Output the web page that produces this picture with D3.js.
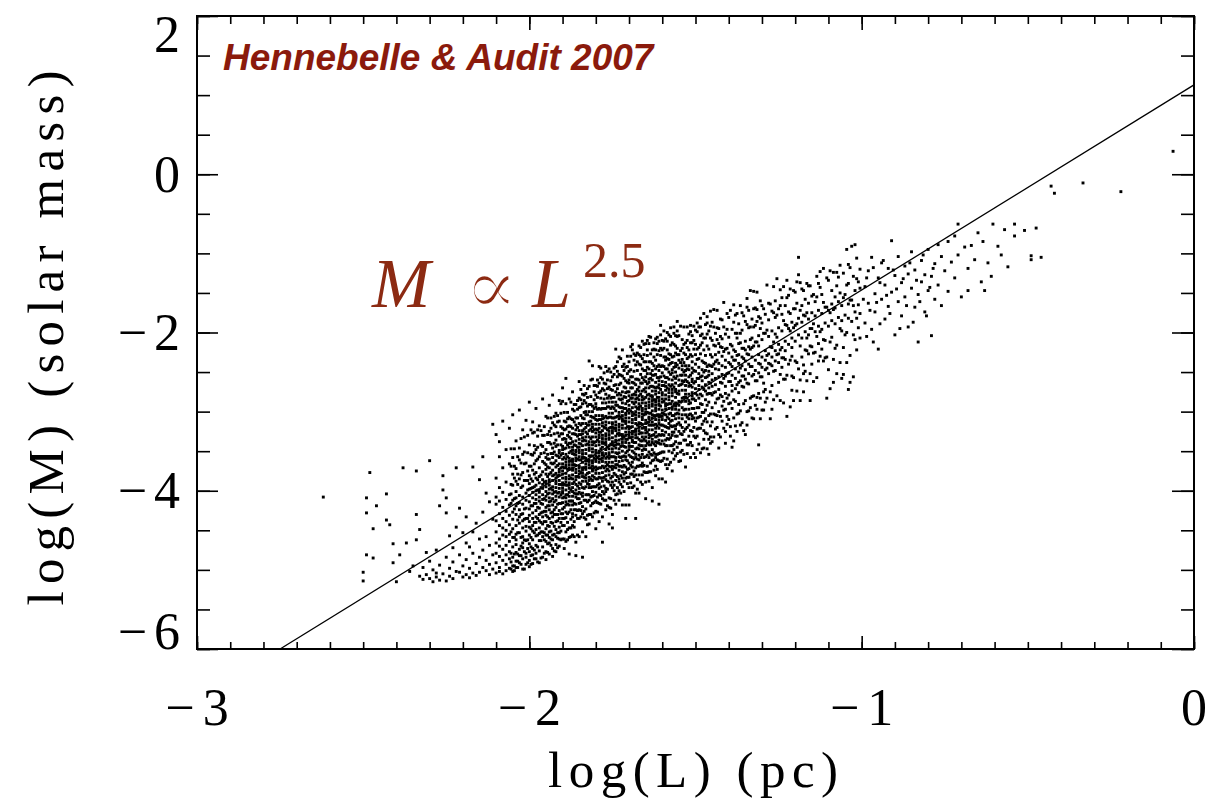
<!DOCTYPE html>
<html>
<head>
<meta charset="utf-8">
<script src="https://cdn.jsdelivr.net/npm/d3@7"></script>
<style>
  body { margin: 0; background: #fff; }
  svg { display: block; }
</style>
</head>
<body>
<div id="chart"></div>
<script>
// axis labels
const xMajor = [-3, -2, -1, 0];
const yMajor = [2, 0, -2, -4, -6];
const xTitle = 'log(L)  (pc)';
const yTitle = 'log(M)  (solar mass)';
const credit = 'Hennebelle & Audit 2007';

// power law fit, a straight line in log-log
const fitL = [-2.75, 0];
const fitM = [-6, 1.13];

// clumps: [logL, logM]
const tailPts = [
  [-2.62,-4.08],[-2.50,-5.03],[-2.50,-5.14],[-2.49,-4.81],[-2.49,-4.28],[-2.49,-4.09],[-2.48,-3.77],[-2.47,-4.48],
  [-2.47,-4.85],[-2.46,-4.19],[-2.43,-4.04],[-2.43,-4.37],[-2.42,-4.43],[-2.41,-4.67],[-2.41,-4.91],[-2.40,-5.15],
  [-2.39,-4.81],[-2.38,-3.71],[-2.37,-4.66],[-2.36,-5.02],[-2.35,-4.95],[-2.34,-3.75],[-2.34,-4.30],[-2.34,-4.62],
  [-2.33,-4.49],[-2.33,-5.08],[-2.32,-4.97],[-2.32,-5.12],[-2.31,-4.78],[-2.31,-5.06],[-2.30,-3.62],[-2.30,-5.11],
  [-2.30,-4.89],[-2.29,-5.00],[-2.29,-5.15],[-2.28,-5.04],[-2.28,-4.75],[-2.28,-5.09],[-2.27,-4.19],[-2.27,-4.94],
  [-2.27,-5.13],[-2.26,-3.81],[-2.26,-3.99],[-2.26,-5.05],[-2.25,-4.09],[-2.25,-4.28],[-2.25,-5.14],[-2.25,-4.84],
  [-2.24,-4.98],[-2.24,-5.08],[-2.24,-4.57],[-2.23,-4.72],[-2.23,-4.90],[-2.23,-5.11],[-2.22,-3.71],[-2.22,-4.46],
  [-2.22,-5.02],[-2.21,-4.22],[-2.21,-5.03],[-2.21,-4.81],[-2.20,-4.53],[-2.20,-4.95],[-2.20,-5.09],[-2.19,-4.33],
  [-2.19,-4.66],[-2.19,-5.06],[-2.19,-4.87],[-2.18,-4.71],[-2.18,-4.98],[-2.18,-5.10],[-2.17,-3.70],[-2.17,-4.79],
  [-2.17,-4.52],[-2.17,-5.04],[-2.16,-4.41],[-2.16,-4.92],[-2.16,-5.07],[-2.15,-3.86],[-2.15,-5.03],[-2.15,-4.61],
  [-2.15,-4.84],[-2.14,-3.57],[-2.14,-4.27],[-2.14,-4.75],[-2.14,-4.97],[-2.13,-4.03],[-2.13,-4.58],[-2.13,-5.01],
  [-2.13,-4.88],[-2.12,-4.14],[-2.12,-4.69],[-2.12,-4.93],[-2.12,-5.06],[-2.11,-3.16],[-2.11,-4.36],[-2.11,-4.81],
  [-2.11,-4.99]
];

// dense band, one column per 0.01 in logL: [logL, [logM...]]
const coreCols = [
  [-2.10, [-4.52,-3.29,-4.91,-4.17,-4.66,-3.84,-5.04,-4.38,-4.79,-4.08]],
  [-2.09, [-4.61,-3.57,-4.29,-4.97,-4.44,-3.96,-4.83,-4.13,-4.70,-5.02,-3.38]],
  [-2.08, [-4.35,-4.88,-3.12,-4.56,-4.02,-4.74,-3.71,-4.47,-5.05,-4.21]],
  [-2.07, [-4.69,-4.11,-3.48,-4.93,-4.39,-4.58,-3.89,-4.81,-4.26,-5.01,-4.50]],
  [-2.06, [-4.43,-3.21,-4.77,-4.05,-4.64,-4.98,-3.66,-4.31,-4.55,-4.86,-4.18]],
  [-2.05, [-4.27,-3.04,-4.59,-3.93,-4.71,-4.12,-4.95,-3.58,-4.36,-4.84,-4.48,-3.79,-5.02]],
  [-2.04, [-4.19,-4.62,-3.37,-4.89,-4.01,-4.44,-3.72,-4.78,-4.30,-4.97,-4.55,-3.88,-4.09,-4.68]],
  [-2.03, [-4.33,-2.98,-4.53,-3.85,-4.74,-4.15,-4.91,-3.61,-4.41,-4.06,-4.82,-4.24,-3.46]],
  [-2.02, [-4.08,-4.66,-3.23,-4.47,-3.94,-4.86,-4.29,-3.77,-4.58,-4.17,-4.99,-4.38,-3.54,-4.72]],
  [-2.01, [-4.22,-3.65,-4.79,-4.03,-4.51,-3.11,-4.93,-4.35,-3.87,-4.63,-4.12,-4.45,-4.84]],
  [-2.00, [-4.14,-2.88,-4.46,-3.81,-4.67,-3.98,-4.31,-3.42,-4.88,-4.06,-4.56,-3.69,-4.23,-4.77,-3.91,-4.39,-4.96]],
  [-1.99, [-3.96,-4.35,-3.27,-4.62,-4.09,-3.74,-4.81,-4.19,-4.51,-3.55,-4.28,-3.88,-4.73,-4.02,-4.44,-4.92,-3.13]],
  [-1.98, [-4.11,-3.84,-4.57,-2.96,-4.25,-3.62,-4.69,-4.00,-4.40,-3.77,-4.86,-4.16,-3.93,-4.49,-3.48,-4.33,-4.79,-4.05]],
  [-1.97, [-4.02,-4.38,-3.71,-4.63,-3.18,-4.22,-3.90,-4.54,-4.13,-3.57,-4.76,-4.30,-3.82,-4.47,-4.08,-4.91,-3.99]],
  [-1.96, [-3.92,-4.27,-3.44,-4.58,-4.05,-3.76,-4.71,-2.84,-4.17,-3.63,-4.42,-3.97,-4.84,-4.33,-3.86,-4.11,-4.52,-3.30]],
  [-1.95, [-3.95,-4.31,-3.58,-4.64,-3.06,-4.12,-3.79,-4.48,-4.01,-3.67,-4.77,-4.21,-3.88,-4.39,-3.48,-4.07,-4.56,-3.91,-4.87,-4.26,-3.73]],
  [-1.94, [-3.86,-4.19,-3.39,-4.52,-3.98,-3.71,-4.66,-2.92,-4.09,-3.60,-4.35,-3.93,-4.80,-4.24,-3.79,-4.03,-4.45,-3.25,-3.89,-4.14,-4.59]],
  [-1.93, [-3.81,-4.27,-3.53,-4.41,-3.95,-3.66,-4.73,-3.14,-4.04,-3.74,-4.56,-3.87,-4.18,-3.46,-4.33,-3.99,-4.62,-3.58,-4.10,-4.83,-2.79]],
  [-1.92, [-3.78,-4.12,-3.44,-4.49,-3.91,-3.62,-4.68,-3.02,-4.01,-3.70,-4.30,-3.84,-4.21,-3.36,-4.58,-3.96,-4.39,-3.55,-4.07,-4.77,-3.88,-3.19]],
  [-1.91, [-3.73,-4.16,-3.49,-4.35,-3.87,-3.58,-4.61,-2.86,-3.97,-3.66,-4.46,-3.80,-4.08,-3.31,-4.25,-3.92,-4.70,-3.52,-4.02,-3.76,-4.53,-3.12]],
  [-1.90, [-3.79,-4.03,-3.44,-4.29,-3.70,-3.90,-3.21,-4.15,-3.60,-3.97,-3.35,-4.44,-3.75,-4.09,-2.87,-3.84,-3.53,-4.23,-3.66,-4.61,-3.28,-3.93,-3.48,-4.35,-2.70,-4.01]],
  [-1.89, [-3.68,-3.93,-3.54,-4.18,-3.22,-3.85,-3.60,-4.34,-3.39,-4.05,-3.78,-4.52,-3.46,-3.89,-3.13,-4.14,-3.71,-4.27,-2.90,-3.99,-3.35,-4.64,-3.64,-4.09,-2.58,-3.83]],
  [-1.88, [-3.71,-3.93,-3.40,-4.18,-3.63,-4.02,-3.18,-3.85,-3.52,-4.47,-3.32,-3.81,-3.07,-4.07,-3.59,-4.27,-3.45,-3.90,-2.84,-4.59,-3.67,-4.13,-3.26,-3.97,-3.73,-4.80]],
  [-1.87, [-3.85,-3.67,-4.01,-3.38,-4.18,-3.53,-3.80,-3.21,-4.33,-3.60,-4.07,-2.97,-3.91,-3.71,-4.56,-3.28,-3.96,-3.45,-4.29,-2.75,-3.74,-3.10,-4.13,-3.63,-4.44,-3.49]],
  [-1.86, [-3.73,-3.49,-4.08,-3.23,-3.82,-3.62,-4.31,-3.37,-3.92,-3.55,-4.17,-3.08,-3.77,-3.43,-4.65,-3.68,-3.99,-3.29,-3.86,-2.91,-4.24,-3.59,-4.04,-3.17,-4.82,-3.51]],
  [-1.85, [-3.71,-3.49,-4.02,-3.24,-3.79,-3.40,-4.24,-3.57,-3.90,-2.95,-4.10,-3.61,-4.35,-3.35,-3.83,-3.15,-3.97,-3.52,-4.58,-2.83,-3.75,-3.29,-4.16,-3.45,-3.69,-2.62]],
  [-1.84, [-3.74,-3.49,-3.88,-3.24,-4.20,-3.57,-3.82,-3.08,-4.03,-3.37,-3.64,-2.90,-3.96,-3.53,-4.29,-3.28,-3.71,-3.15,-4.52,-3.43,-4.07,-2.78,-3.78,-3.33,-4.84,-3.59]],
  [-1.83, [-3.48,-3.66,-3.32,-3.95,-3.15,-3.80,-3.53,-4.12,-3.00,-3.73,-3.26,-4.36,-3.42,-3.62,-2.77,-4.05,-3.37,-3.88,-3.04,-4.58,-3.59,-4.23,-3.20,-3.70,-2.89,-3.84]],
  [-1.82, [-3.46,-3.71,-3.32,-3.96,-3.00,-3.63,-3.38,-4.12,-3.17,-3.83,-3.56,-4.30,-3.24,-3.67,-2.91,-3.92,-3.49,-4.05,-2.68,-3.77,-3.13,-4.42,-3.42,-3.87,-2.36,-3.61]],
  [-1.81, [-3.51,-3.75,-3.16,-4.01,-3.42,-3.62,-2.93,-3.87,-3.32,-3.69,-3.07,-4.16,-3.47,-3.81,-2.59,-3.56,-3.25,-3.95,-3.38,-4.33,-3.00,-3.65,-3.20,-4.07,-2.42,-3.73]],
  [-1.80, [-3.38,-3.56,-3.22,-3.85,-3.05,-3.70,-3.43,-4.02,-2.90,-3.63,-3.16,-4.26,-3.32,-3.52,-2.67,-3.95,-3.27,-3.78,-2.94,-4.48,-3.49,-4.13,-3.10,-3.60,-2.79,-3.74]],
  [-1.79, [-3.52,-3.30,-3.83,-3.05,-3.60,-3.21,-4.05,-3.38,-3.71,-2.76,-3.91,-3.42,-4.16,-3.16,-3.64,-2.96,-3.78,-3.33,-4.39,-2.64,-3.56,-3.10,-3.97,-3.26,-3.50,-2.43]],
  [-1.78, [-3.55,-3.30,-3.69,-3.05,-4.01,-3.38,-3.63,-2.89,-3.84,-3.18,-3.45,-2.71,-3.77,-3.34,-4.10,-3.09,-3.52,-2.96,-4.33,-3.24,-3.88,-2.59,-3.59,-3.14,-4.65,-3.40]],
  [-1.77, [-3.53,-3.35,-3.69,-3.06,-3.86,-3.21,-3.48,-2.89,-4.01,-3.28,-3.75,-2.65,-3.59,-3.39,-4.24,-2.96,-3.64,-3.13,-3.97,-2.43,-3.42,-2.78,-3.81,-3.31,-4.12,-3.17]],
  [-1.76, [-3.33,-3.55,-3.02,-3.80,-3.25,-3.64,-2.80,-3.47,-3.14,-4.09,-2.94,-3.43,-2.69,-3.69,-3.21,-3.89,-3.07,-3.52,-2.46,-4.21,-3.29,-3.75,-2.88,-3.59,-3.35,-4.42]],
  [-1.75, [-3.38,-3.14,-3.73,-2.88,-3.47,-3.27,-3.96,-3.02,-3.57,-3.20,-3.82,-2.73,-3.42,-3.08,-4.30,-3.33,-3.64,-2.94,-3.51,-2.56,-3.89,-3.24,-3.69,-2.82,-4.47,-3.16]],
  [-1.74, [-3.21,-3.46,-3.07,-3.71,-2.75,-3.38,-3.13,-3.87,-2.92,-3.58,-3.31,-4.05,-2.99,-3.42,-2.66,-3.67,-3.24,-3.80,-2.43,-3.52,-2.88,-4.17,-3.17,-3.62,-2.21,-3.36]],
  [-1.73, [-3.41,-3.23,-3.57,-2.94,-3.74,-3.09,-3.36,-2.77,-3.89,-3.16,-3.63,-2.53,-3.47,-3.27,-4.12,-2.84,-3.52,-3.01,-3.85,-2.31,-3.30,-2.66,-3.69,-3.19,-4.00,-3.05]],
  [-1.72, [-3.31,-3.09,-3.62,-2.84,-3.39,-3.00,-3.84,-3.17,-3.50,-2.55,-3.70,-3.21,-3.95,-2.95,-3.43,-2.75,-3.57,-3.12,-4.18,-2.43,-3.35,-2.89,-3.76,-3.05,-3.29,-2.22]],
  [-1.71, [-3.26,-3.02,-3.61,-2.76,-3.35,-3.15,-3.84,-2.90,-3.45,-3.08,-3.70,-2.61,-3.30,-2.96,-4.18,-3.21,-3.52,-2.82,-3.39,-2.44,-3.77,-3.12,-3.57,-2.70,-4.35,-3.04]],
  [-1.70, [-3.08,-3.26,-2.92,-3.55,-2.75,-3.40,-3.13,-3.72,-2.60,-3.33,-2.86,-3.96,-3.02,-3.22,-2.37,-3.65,-2.97,-3.48,-2.64,-4.18,-3.19,-3.83,-2.80,-3.30,-2.49,-3.44]],
  [-1.69, [-3.14,-3.38,-2.79,-3.64,-3.05,-3.25,-2.56,-3.50,-2.95,-3.32,-2.70,-3.79,-3.10,-3.44,-2.22,-3.19,-2.88,-3.58,-3.01,-3.96,-2.63,-3.28,-2.83,-3.70,-2.15,-3.36]],
  [-1.68, [-3.25,-3.00,-3.39,-2.75,-3.71,-3.08,-3.33,-2.59,-3.54,-2.88,-3.15,-2.41,-3.47,-3.04,-3.80,-2.79,-3.22,-2.66,-4.03,-2.94,-3.58,-2.29,-3.29,-2.84,-4.35,-3.10]],
  [-1.67, [-3.16,-2.94,-3.47,-2.69,-3.24,-2.85,-3.69,-3.02,-3.35,-2.40,-3.55,-3.06,-3.80,-2.80,-3.28,-2.60,-3.42,-2.97,-4.03,-2.28,-3.20,-2.74,-3.61,-2.90,-3.14,-2.17]],
  [-1.66, [-3.21,-3.03,-3.37,-2.74,-3.54,-2.89,-3.16,-2.57,-3.69,-2.96,-3.43,-2.33,-3.27,-3.07,-3.92,-2.64,-3.32,-2.81,-3.65,-2.11,-3.10,-2.46,-3.49,-2.99,-3.80,-2.85]],
  [-1.65, [-3.01,-3.23,-2.70,-3.48,-2.93,-3.32,-2.48,-3.15,-2.82,-3.77,-2.62,-3.11,-2.37,-3.37,-2.89,-3.57,-2.75,-3.20,-2.14,-3.89,-2.97,-3.43,-2.56,-3.27,-3.03,-4.10]],
  [-1.64, [-2.92,-3.17,-2.78,-3.42,-2.46,-3.09,-2.84,-3.58,-2.63,-3.29,-3.02,-3.76,-2.70,-3.13,-2.37,-3.38,-2.95,-3.51,-2.14,-3.23,-2.59,-3.88,-2.88,-3.33,-2.05,-3.07]],
  [-1.63, [-3.04,-2.80,-3.39,-2.54,-3.13,-2.93,-3.62,-2.68,-3.23,-2.86,-3.48,-2.39,-3.08,-2.74,-3.96,-2.99,-3.30,-2.60,-3.17,-2.22,-3.55,-2.90,-3.35,-2.48,-4.13,-2.82]],
  [-1.62, [-3.10,-2.92,-3.26,-2.63,-3.43,-2.78,-3.05,-2.46,-3.58,-2.85,-3.32,-2.22,-3.16,-2.96,-3.81,-2.53,-3.21,-2.70,-3.54,-2.08,-2.99,-2.35,-3.38,-2.88,-3.69,-2.74]],
  [-1.61, [-3.07,-2.82,-3.21,-2.57,-3.53,-2.90,-3.15,-2.41,-3.36,-2.70,-2.97,-2.23,-3.29,-2.86,-3.62,-2.61,-3.04,-2.48,-3.85,-2.76,-3.40,-2.11,-3.11,-2.66,-4.17,-2.92]],
  [-1.60, [-2.98,-2.76,-3.29,-2.51,-3.06,-2.67,-3.51,-2.84,-3.17,-2.22,-3.37,-2.88,-3.62,-2.62,-3.10,-2.42,-3.24,-2.79,-3.85,-2.10,-3.02]],
  [-1.59, [-2.79,-2.97,-2.63,-3.26,-2.46,-3.11,-2.84,-3.43,-2.31,-3.04,-2.57,-3.67,-2.73,-2.93,-2.08,-3.36,-2.68,-3.19,-2.35,-3.89,-2.90]],
  [-1.58, [-2.85,-3.09,-2.50,-3.35,-2.76,-2.96,-2.27,-3.21,-2.66,-3.03,-2.41,-3.50,-2.81,-3.15,-2.03,-2.90,-2.59,-3.29,-2.72,-3.67,-2.34]],
  [-1.57, [-2.97,-2.72,-3.11,-2.47,-3.43,-2.80,-3.05,-2.31,-3.26,-2.60,-2.87,-2.13,-3.19,-2.76,-3.52,-2.51,-2.94,-2.38,-3.75,-2.66,-3.30]],
  [-1.56, [-2.72,-2.97,-2.58,-3.22,-2.26,-2.89,-2.64,-3.38,-2.43,-3.09,-2.82,-3.56,-2.50,-2.93,-2.17,-3.18,-2.75,-3.31,-2.04,-3.03,-2.39]],
  [-1.55, [-2.92,-2.74,-3.08,-2.45,-3.25,-2.60,-2.87,-2.28,-3.40,-2.67,-3.14,-2.04,-2.98,-2.78,-3.63,-2.35,-3.03]],
  [-1.54, [-2.73,-2.95,-2.42,-3.20,-2.65,-3.04,-2.20,-2.87,-2.54,-3.49,-2.34,-2.83,-2.09,-3.09,-2.61,-3.29,-2.47]],
  [-1.53, [-2.78,-2.54,-3.13,-2.28,-2.87,-2.67,-3.36,-2.42,-2.97,-2.60,-3.22,-2.13,-2.82,-2.48,-3.70,-2.73,-3.04]],
  [-1.52, [-2.78,-2.56,-3.09,-2.31,-2.86,-2.47,-3.31,-2.64,-2.97,-2.02,-3.17,-2.68,-3.42,-2.42,-2.90,-2.22,-3.04]],
  [-1.51, [-2.59,-2.84,-2.45,-3.09,-2.13,-2.76,-2.51,-3.25,-2.30,-2.96,-2.69,-3.43,-2.37,-2.80,-2.04,-3.05,-2.62]]
];

// wider spread of the band, read between the columns above
const flankCols = [
  [-2.055, [-3.69,-4.79,-4.16,-4.99,-3.92,-4.52,-3.47,-4.90,-4.04]],
  [-2.045, [-3.84,-4.95,-3.47,-4.59,-4.10,-4.80,-3.69,-5.01,-4.23]],
  [-2.035, [-4.80,-3.92,-4.37,-3.57,-4.97,-3.79,-4.53,-4.16,-4.89]],
  [-2.025, [-4.59,-3.65,-4.93,-3.96,-4.70,-3.34,-4.30,-3.80,-4.82]],
  [-2.015, [-4.62,-3.51,-4.99,-3.87,-4.36,-3.66,-4.77,-3.32,-4.23]],
  [-2.005, [-3.52,-4.62,-3.99,-4.91,-3.75,-4.35,-3.30,-4.73,-3.87]],
  [-1.995, [-4.48,-3.54,-4.82,-3.85,-4.59,-3.23,-4.19,-3.69,-4.71,-3.97,-4.93]],
  [-1.985, [-3.52,-4.40,-3.95,-4.75,-3.26,-4.53,-3.79,-4.16,-3.43,-4.86,-3.66]],
  [-1.975, [-3.60,-4.71,-3.23,-4.35,-3.86,-4.56,-3.45,-4.90,-3.99,-4.21,-3.31]],
  [-1.965, [-4.63,-3.53,-4.16,-3.24,-4.40,-3.80,-4.85,-3.42,-4.28,-3.96,-4.52]],
  [-1.955, [-4.53,-3.65,-4.10,-3.30,-4.79,-3.52,-4.26,-3.89,-4.62,-3.19,-4.39]],
  [-1.945, [-4.33,-3.39,-4.67,-3.70,-4.44,-3.08,-4.04,-3.54,-4.56,-3.82,-4.78,-3.29,-4.19,-3.60]],
  [-1.935, [-3.30,-4.40,-3.77,-4.69,-3.53,-4.13,-3.08,-4.51,-3.65,-3.97,-3.41,-4.28,-3.21,-4.61]],
  [-1.925, [-3.51,-4.45,-3.17,-4.14,-3.40,-4.76,-3.80,-4.30,-3.28,-4.02,-3.06,-4.55,-3.65,-4.24]],
  [-1.915, [-3.42,-4.53,-3.05,-4.17,-3.68,-4.38,-3.27,-4.72,-3.81,-4.03,-3.13,-4.30,-3.56,-4.60]],
  [-1.905, [-3.28,-4.16,-3.71,-4.51,-3.02,-4.29,-3.55,-3.92,-3.19,-4.62,-3.42,-4.05,-2.90,-4.40]],
  [-1.895, [-4.35,-3.47,-3.92,-3.12,-4.61,-3.34,-4.08,-3.71,-4.44,-3.01,-4.21,-3.58,-4.73,-3.23]],
  [-1.885, [-4.40,-3.30,-3.93,-3.01,-4.17,-3.57,-4.62,-3.19,-4.05,-3.73,-4.29,-3.42,-4.49,-3.09]],
  [-1.875, [-4.13,-3.19,-4.47,-3.50,-4.24,-2.88,-3.84,-3.34,-4.36,-3.62,-4.58,-3.09,-3.99,-3.40]],
  [-1.865, [-3.28,-4.39,-2.91,-4.03,-3.54,-4.24,-3.13,-4.58,-3.67,-3.89,-2.99,-4.16,-3.42,-4.46]],
  [-1.855, [-3.31,-4.25,-2.97,-3.94,-3.20,-4.56,-3.60,-4.10,-3.08,-3.82,-2.86,-4.35,-3.45,-4.04]],
  [-1.845, [-2.94,-4.04,-3.41,-4.33,-3.17,-3.77,-2.72,-4.15,-3.29,-3.61,-3.05,-3.92,-2.85,-4.25]],
  [-1.835, [-3.97,-2.86,-4.34,-3.22,-3.71,-3.01,-4.12,-2.67,-3.58,-3.36,-4.26,-3.09,-3.83,-2.79]],
  [-1.825, [-4.05,-3.17,-3.62,-2.82,-4.31,-3.04,-3.78,-3.41,-4.14,-2.71,-3.91,-3.28,-4.43,-2.93]],
  [-1.815, [-3.85,-2.91,-4.19,-3.22,-3.96,-2.60,-3.56,-3.06,-4.08,-3.34,-4.30,-2.81,-3.71,-3.12]],
  [-1.805, [-4.06,-2.96,-3.59,-2.67,-3.83,-3.23,-4.28,-2.85,-3.71,-3.39,-3.95,-3.08,-4.15,-2.75]],
  [-1.795, [-2.97,-4.08,-2.60,-3.72,-3.23,-3.93,-2.82,-4.27,-3.36,-3.58,-2.68,-3.85,-3.11,-4.15]],
  [-1.785, [-2.83,-3.71,-3.26,-4.06,-2.57,-3.84,-3.10,-3.47,-2.74,-4.17,-2.97,-3.60,-2.45,-3.95]],
  [-1.775, [-2.73,-3.83,-3.20,-4.12,-2.96,-3.56,-2.51,-3.94,-3.08,-3.40,-2.84,-3.71,-2.64,-4.04]],
  [-1.765, [-2.94,-3.88,-2.60,-3.57,-2.83,-4.19,-3.23,-3.73,-2.71,-3.45,-2.49,-3.98,-3.08,-3.67]],
  [-1.755, [-3.84,-2.96,-3.41,-2.61,-4.10,-2.83,-3.57,-3.20,-3.93,-2.50,-3.70,-3.07,-4.22,-2.72]],
  [-1.745, [-2.82,-3.93,-2.45,-3.57,-3.08,-3.78,-2.67,-4.12,-3.21,-3.43,-2.53,-3.70,-2.96,-4.00]],
  [-1.735, [-3.67,-2.56,-4.04,-2.92,-3.41,-2.71,-3.82,-2.37,-3.28,-3.06,-3.96,-2.79,-3.53,-2.49]],
  [-1.725, [-3.58,-2.64,-3.92,-2.95,-3.69,-2.33,-3.29,-2.79,-3.81,-3.07,-4.03,-2.54,-3.44,-2.85]],
  [-1.715, [-3.79,-2.69,-3.32,-2.40,-3.56,-2.96,-4.01,-2.58,-3.44,-3.12,-3.68,-2.81,-3.88,-2.48]],
  [-1.705, [-2.52,-3.62,-2.99,-3.91,-2.75,-3.35,-2.30,-3.73,-2.87,-3.19,-2.63,-3.50,-2.43,-3.83]],
  [-1.695, [-2.56,-3.44,-2.99,-3.79,-2.30,-3.57,-2.83,-3.20,-2.47,-3.90,-2.70,-3.33,-2.18,-3.68]],
  [-1.685, [-2.64,-3.75,-2.27,-3.39,-2.90,-3.60,-2.49,-3.94,-3.03,-3.25,-2.35,-3.52,-2.78,-3.82]],
  [-1.675, [-3.60,-2.72,-3.17,-2.37,-3.86,-2.59,-3.33,-2.96,-3.69,-2.26,-3.46,-2.83,-3.98,-2.48]],
  [-1.665, [-2.64,-3.58,-2.30,-3.27,-2.53,-3.89,-2.93,-3.43,-2.41,-3.15,-2.19,-3.68,-2.78,-3.37]],
  [-1.655, [-2.37,-3.47,-2.84,-3.76,-2.60,-3.20,-2.15,-3.58,-2.72,-3.04,-2.48,-3.35,-2.28,-3.68]],
  [-1.645, [-3.40,-2.29,-3.77,-2.65,-3.14,-2.44,-3.55,-2.10,-3.01,-2.79,-3.69,-2.52,-3.26,-2.22]],
  [-1.635, [-3.31,-2.37,-3.65,-2.68,-3.42,-2.06,-3.02,-2.52,-3.54,-2.80,-3.76,-2.27,-3.17,-2.58]],
  [-1.625, [-3.52,-2.42,-3.05,-2.13,-3.29,-2.69,-3.74,-2.31,-3.17,-2.85,-3.41,-2.54,-3.61,-2.21]],
  [-1.615, [-2.43,-3.54,-2.06,-3.18,-2.69,-3.39,-2.28,-3.73,-2.82,-3.04,-2.14,-3.31,-2.57,-3.61]],
  [-1.605, [-2.29,-3.17,-2.72,-3.52,-2.03,-3.30,-2.56,-2.93,-2.20,-3.63,-2.43,-3.06,-1.91,-3.41]],
  [-1.595, [-2.20,-3.30,-2.67,-3.59,-2.43,-3.03,-1.98,-3.41,-2.55,-2.87,-2.31,-3.18,-2.11,-3.51]],
  [-1.585, [-3.34,-2.46,-2.91,-2.11,-3.60,-2.33,-3.07,-2.70,-3.43,-2.00,-3.20,-2.57,-3.72,-2.22]],
  [-1.575, [-2.39,-3.33,-2.05,-3.02,-2.28,-3.64,-2.68,-3.18,-2.16,-2.90,-1.94,-3.43,-2.53,-3.12]],
  [-1.565, [-2.30,-3.41,-1.93,-3.05,-2.56,-3.26,-2.15,-3.60,-2.69,-2.91,-2.01,-3.18,-2.44,-3.48]],
  [-1.555, [-3.16,-2.05,-3.53,-2.41,-2.90,-2.20,-3.31,-1.86,-2.77,-2.55,-3.45,-2.28,-3.02,-1.98]],
  [-1.545, [-3.17,-2.23,-3.51,-2.54,-3.28,-1.92,-2.88,-2.38,-3.40,-2.66,-3.62]],
  [-1.535, [-2.15,-3.25,-2.62,-3.54,-2.38,-2.98,-1.93,-3.36,-2.50,-2.82,-2.26]],
  [-1.525, [-2.19,-3.07,-2.62,-3.42,-1.93,-3.20,-2.46,-2.83,-2.10,-3.53,-2.33]],
  [-1.515, [-2.28,-3.39,-1.91,-3.03,-2.54,-3.24,-2.13,-3.58,-2.67,-2.89,-1.99]],
  [-1.505, [-3.31,-2.21,-2.84,-1.92,-3.08,-2.48,-3.53,-2.10,-2.96,-2.64,-3.20]],
  [-1.495, [-3.22,-2.34,-2.79,-1.99,-3.48,-2.21,-2.95,-2.58,-3.31,-1.88,-3.08]],
  [-1.485, [-2.27,-3.21,-1.93,-2.90,-2.16,-3.52,-2.56,-3.06,-2.04,-2.78,-1.82]],
  [-1.475, [-3.01,-2.07,-3.35,-2.38,-3.12,-1.76,-2.72,-2.22,-3.24,-2.50,-3.46]],
  [-1.465, [-2.17,-3.28,-1.80,-2.92,-2.43,-3.13,-2.02,-3.47,-2.56,-2.78,-1.88]],
  [-1.455, [-3.03,-1.92,-3.40,-2.28,-2.77,-2.07,-3.18,-1.73,-2.64,-2.42,-3.32]],
  [-1.445, [-1.93,-3.03,-2.40,-3.32,-2.16,-2.76,-1.71]],
  [-1.435, [-2.09,-3.20,-1.72,-2.84,-2.35,-3.05,-1.94]],
  [-1.425, [-3.06,-2.18,-2.63,-1.83,-3.32,-2.05,-2.79]],
  [-1.415, [-2.87,-1.93,-3.21,-2.24,-2.98,-1.62,-2.58]],
  [-1.405, [-3.06,-2.20,-2.52,-1.96,-2.83,-1.76,-3.16]],
  [-1.395, [-3.31,-2.40,-2.62,-1.72,-2.89,-2.15,-3.19]],
  [-1.385, [-2.35,-3.08,-1.65,-2.85,-2.22,-3.37,-1.87]],
  [-1.375, [-2.01,-3.03,-2.29,-3.25,-1.76,-2.66,-2.07]],
  [-1.365, [-3.17,-2.01,-2.61,-1.66,-2.99,-2.13,-2.45]],
  [-1.355, [-2.69,-2.20,-2.90,-1.79,-3.24,-2.33,-2.55]],
  [-1.345, [-1.68,-3.17,-1.90,-2.64,-2.27,-3.00,-1.57]],
  [-1.335, [-2.09,-2.83,-1.47,-2.43,-1.93,-2.95,-2.21]],
  [-1.325, [-1.70,-2.80,-2.17,-3.09,-1.93,-2.53,-1.48]],
  [-1.315, [-1.86,-2.97,-1.49,-2.61,-2.12,-2.82,-1.71]],
  [-1.305, [-2.83,-1.95,-2.40,-1.60,-3.09,-1.82,-2.56]],
  [-1.295, [-2.64,-1.70,-2.98,-2.01,-2.75]],
  [-1.285, [-2.45,-1.40,-2.83,-1.97,-2.29]],
  [-1.275, [-2.75,-1.64,-3.09,-2.18,-2.40]],
  [-1.265, [-1.75,-2.49,-2.12,-2.85,-1.42]],
  [-1.255, [-1.32,-2.28,-1.78,-2.80,-2.06]],
  [-1.245, [-2.22,-1.66,-2.53,-1.46,-2.86]],
  [-1.235, [-2.32,-1.42,-2.59,-1.85,-2.89]],
  [-1.225, [-1.34,-2.54,-1.91,-3.06,-1.56]],
  [-1.215, [-1.98,-2.94,-1.45,-2.35,-1.76]],
  [-1.205, [-1.47,-2.57,-1.94,-2.86,-1.70]],
  [-1.195, [-1.63,-2.74,-1.36,-2.38,-1.89]],
  [-1.185, [-2.60,-1.72,-2.17,-1.37,-2.86]],
  [-1.175, [-2.41,-1.47,-2.75,-1.78,-2.52]],
  [-1.165, [-2.23,-1.38,-2.61,-1.75,-2.07]],
  [-1.155, [-2.52,-1.41,-2.86,-1.95,-2.17]],
  [-1.145, [-1.52,-2.26,-1.89,-2.62]],
  [-1.135, [-1.29,-2.05,-1.55,-2.57]],
  [-1.125, [-1.99,-1.43,-2.30,-1.23]],
  [-1.115, [-2.09,-1.19,-2.36,-1.62]],
  [-1.105, [-1.31,-2.31,-1.68,-2.83]],
  [-1.095, [-1.75,-2.71,-1.22,-2.12]],
  [-1.085, [-1.24,-2.34,-1.71,-2.63]],
  [-1.075, [-1.41,-2.52,-1.24,-2.16]],
  [-1.065, [-2.38,-1.50,-1.95,-1.15]],
  [-1.055, [-2.19,-1.25,-2.53,-1.56]],
  [-1.045, [-1.40,-2.00,-0.95,-2.38]],
  [-1.035, [-1.59,-2.29,-1.18,-2.63]],
  [-1.025, [-2.56,-1.29,-2.03,-1.66]],
  [-1.015, [-2.22,-1.06,-1.82,-1.32]],
  [-1.005, [-1.44,-1.76,-1.20,-2.07]]
];

const midCols = [
  [-1.50, [-2.71,-2.49,-3.02,-2.28,-2.86,-1.97,-3.33,-2.62,-2.15,-3.58,-2.77,-2.40,-3.12]],
  [-1.49, [-2.58,-2.83,-2.19,-3.21,-2.67,-2.44,-1.93,-3.41,-2.95,-2.33,-2.72,-3.07,-2.52]],
  [-1.48, [-2.61,-2.36,-2.91,-2.13,-3.16,-2.69,-2.47,-3.47,-2.02,-2.80,-2.55,-3.01]],
  [-1.47, [-2.66,-2.29,-2.98,-2.48,-3.27,-2.07,-2.74,-2.39,-3.09,-2.57,-1.90,-2.85]],
  [-1.46, [-2.54,-2.77,-2.21,-3.05,-2.63,-2.41,-3.35,-1.98,-2.88,-2.49,-3.54,-2.70]],
  [-1.45, [-2.52,-2.31,-2.79,-2.10,-3.13,-2.60,-2.43,-2.95,-1.87,-3.38,-2.68]],
  [-1.44, [-2.58,-2.37,-2.89,-2.17,-2.66,-3.22,-2.46,-2.01,-2.75,-3.04,-2.28]],
  [-1.43, [-2.47,-2.72,-2.25,-3.00,-2.56,-1.95,-3.29,-2.39,-2.83,-2.14,-3.46]],
  [-1.42, [-2.53,-2.30,-2.81,-2.08,-2.64,-3.12,-2.42,-1.84,-2.93,-2.19]],
  [-1.41, [-2.44,-2.68,-2.21,-2.97,-2.55,-2.02,-3.25,-2.35,-2.77,-3.40]],
  [-1.40, [-2.51,-2.26,-2.79,-2.06,-2.62,-3.10,-2.38,-1.81,-2.90]],
  [-1.39, [-2.43,-2.67,-2.17,-2.96,-2.54,-1.96,-3.45,-2.31,-2.74]],
  [-1.38, [-2.46,-2.24,-2.71,-2.01,-2.58,-3.18,-2.35,-1.78,-2.87]],
  [-1.37, [-2.39,-2.63,-2.14,-2.91,-2.50,-1.89,-3.02,-2.28,-2.76]],
  [-1.36, [-2.42,-2.20,-2.68,-1.97,-2.55,-3.14,-2.31,-1.75]],
  [-1.35, [-2.36,-2.59,-2.11,-2.86,-2.47,-1.86,-3.29,-2.22]],
  [-1.34, [-2.40,-2.18,-2.65,-1.94,-2.52,-2.99,-2.28,-1.72]],
  [-1.33, [-2.31,-2.55,-2.07,-2.81,-2.43,-1.83,-3.08,-2.19]],
  [-1.32, [-2.35,-2.12,-2.61,-1.91,-2.48,-2.92,-1.69]],
  [-1.31, [-2.28,-2.51,-2.04,-2.77,-2.39,-1.80,-3.42,-2.17]],
  [-1.30, [-2.31,-2.09,-2.56,-1.88,-2.44,-2.98,-1.66]],
  [-1.29, [-2.23,-2.47,-2.01,-2.72,-2.35,-1.77,-2.88]],
  [-1.28, [-2.27,-2.05,-2.52,-1.84,-2.39,-1.63]],
  [-1.27, [-2.19,-2.42,-1.98,-2.67,-2.31,-1.73,-2.97]],
  [-1.26, [-2.23,-2.02,-2.48,-1.81,-2.36,-1.60]],
  [-1.25, [-2.15,-2.38,-1.94,-2.63,-2.27,-1.70]],
  [-1.24, [-2.19,-1.98,-2.44,-1.77,-2.32,-1.56]],
  [-1.23, [-2.11,-2.34,-1.90,-2.59,-2.23,-1.66]],
  [-1.22, [-2.15,-1.95,-2.40,-1.74,-1.53]],
  [-1.21, [-2.07,-2.30,-1.87,-2.55,-2.19,-2.73]],
  [-1.20, [-2.11,-1.91,-2.36,-1.70,-1.49]],
  [-1.19, [-1.05,-1.27,-2.03,-1.82,-2.46]],
  [-1.18, [-2.07,-1.87,-2.31,-1.66,-1.45]],
  [-1.17, [-1.99,-2.22,-1.79,-2.49,-1.58]],
  [-1.16, [-2.03,-1.83,-2.27,-1.63,-1.41]],
  [-1.15, [-1.95,-2.18,-1.75,-2.40,-1.54]],
  [-1.14, [-1.99,-1.79,-2.25,-1.61]],
  [-1.13, [-1.92,-2.14,-1.72,-2.36,-1.38]],
  [-1.12, [-1.96,-1.76,-2.21,-1.52]],
  [-1.11, [-1.88,-2.10,-1.68,-2.32]],
  [-1.10, [-1.92,-1.72,-2.47,-1.34]],
  [-1.09, [-1.85,-2.06,-1.64,-1.47]],
  [-1.08, [-1.89,-1.69,-2.20,-1.55]],
  [-1.07, [-1.81,-1.61,-1.30]],
  [-1.06, [-1.85,-1.66,-1.98,-2.58]],
  [-1.05, [-1.78,-1.52,-2.03]],
  [-1.04, [-1.14,-1.38,-1.82,-1.64,-2.72]],
  [-1.03, [-0.91,-1.59,-1.86]],
  [-1.02, [-0.89,-1.47,-1.74,-2.09]],
  [-1.01, [-1.36,-1.65,-1.94]]
];

const upperPts = [
  [-0.995,-1.58],[-0.985,-1.31],[-0.985,-2.05],[-0.975,-1.72],[-0.965,-1.18],[-0.965,-2.12],[-0.955,-1.62],[-0.945,-1.37],
  [-0.945,-1.89],[-0.935,-1.09],[-0.925,-1.53],[-0.915,-1.76],[-0.905,-1.21],[-0.895,-1.45],[-0.885,-1.95],[-0.875,-1.32],
  [-0.865,-1.66],[-0.855,-1.12],[-0.845,-1.87],[-0.835,-1.34],[-0.825,-1.61],[-0.815,-1.02],[-0.805,-1.79],[-0.795,-1.43],
  [-0.785,-1.19],
  [-0.99,-1.42],[-0.99,-1.88],[-0.98,-1.22],[-0.98,-1.63],[-0.97,-1.96],[-0.97,-1.05],[-0.96,-1.51],[-0.96,-1.74],
  [-0.95,-1.31],[-0.95,-2.21],[-0.94,-1.58],[-0.94,-1.12],[-0.93,-1.83],[-0.93,-1.40],[-0.92,-1.67],[-0.92,-1.19],
  [-0.91,-0.84],[-0.91,-1.49],[-0.90,-2.03],[-0.90,-1.28],[-0.89,-1.61],[-0.89,-1.04],[-0.88,-1.37],[-0.88,-1.79],
  [-0.87,-1.16],[-0.87,-1.55],[-0.86,-1.93],[-0.86,-1.26],[-0.85,-1.44],[-0.85,-0.98],[-0.84,-1.68],[-0.84,-1.21],
  [-0.83,-1.52],[-0.83,-2.12],[-0.82,-1.09],[-0.82,-1.36],[-0.81,-1.27],[-0.81,-1.74],[-0.80,-1.47],[-0.80,-0.95],
  [-0.79,-1.29],[-0.79,-2.04],[-0.78,-1.58],[-0.78,-1.13],[-0.77,-1.40],[-0.77,-0.89],[-0.76,-1.04],[-0.76,-1.66],
  [-0.75,-1.22],[-0.74,-0.85],[-0.74,-1.48],[-0.73,-1.11],[-0.72,-1.31],[-0.72,-0.78],[-0.71,-0.63],[-0.71,-1.02],
  [-0.70,-1.55],[-0.69,-0.92],[-0.68,-1.47],[-0.68,-1.19],[-0.67,-0.90],[-0.66,-1.08],[-0.65,-0.74],[-0.64,-1.36],
  [-0.635,-0.85],[-0.63,-1.47],[-0.62,-1.12],[-0.61,-1.29],[-0.605,-0.63],[-0.59,-0.91],[-0.58,-1.02],[-0.57,-0.70],
  [-0.56,-1.17],[-0.54,-0.63],[-0.54,-0.78],[-0.51,-0.71],[-0.49,-1.03],[-0.49,-1.08],[-0.475,-0.68],[-0.46,-1.05]
];

const farPts = [[-0.43,-0.15],[-0.42,-0.24],[-0.334,-0.11],[-0.22,-0.22],[-0.063,0.29]];

const W = 1206, H = 808;
const box = { left: 197, right: 1194, top: 16, bottom: 649 };
const red = '#8b1a0c';
const serif = '"Liberation Serif", "Times New Roman", serif';

const svg = d3.select('#chart').append('svg')
  .attr('width', W)
  .attr('height', H)
  .style('background', '#fff');

const x = d3.scaleLinear().domain([-3, 0]).range([box.left, box.right]);
const y = d3.scaleLinear().domain([-6, 2]).range([box.bottom, box.top]);

const xMinor = d3.range(-3, 0.0001, 0.1);
const yMinor = d3.range(-6, 2.0001, 0.5);
const yMajTicks = [-6, -4, -2, 0, 2];

// ticks on all four sides, pointing inward
function ticks(axis, vals, size, tx, ty) {
  svg.append('g')
    .attr('transform', `translate(${tx},${ty})`)
    .call(axis.tickValues(vals).tickSize(-size).tickFormat(''))
    .call(g => g.select('.domain').remove())
    .call(g => g.selectAll('line').attr('stroke', '#000').attr('stroke-width', 1.6));
}
ticks(d3.axisBottom(x), xMinor, 7, 0, box.bottom);
ticks(d3.axisBottom(x), xMajor, 13, 0, box.bottom);
ticks(d3.axisTop(x), xMinor, 8, 0, box.top);
ticks(d3.axisTop(x), xMajor, 14, 0, box.top);
ticks(d3.axisLeft(y), yMinor, 13, box.left, 0);
ticks(d3.axisLeft(y), yMajTicks, 21, box.left, 0);
ticks(d3.axisRight(y), yMinor, 13, box.right, 0);
ticks(d3.axisRight(y), yMajTicks, 22, box.right, 0);

// scatter
const flat = cols => cols.flatMap(([l, ms]) => ms.map(m => [l, m]));
const pts = [].concat(tailPts, flat(coreCols), flat(flankCols), flat(midCols), upperPts, farPts);
const ds = 2.9;
svg.append('g').selectAll('rect')
  .data(pts)
  .enter().append('rect')
  .attr('x', d => x(d[0]) - ds / 2)
  .attr('y', d => y(d[1]) - ds / 2)
  .attr('width', ds)
  .attr('height', ds)
  .attr('fill', '#000');

// fit line
svg.append('path')
  .datum(d3.zip(fitL, fitM))
  .attr('d', d3.line().x(d => x(d[0])).y(d => y(d[1])))
  .attr('fill', 'none')
  .attr('stroke', '#000')
  .attr('stroke-width', 1.3);

// frame
svg.append('rect')
  .attr('x', box.left).attr('y', box.top)
  .attr('width', box.right - box.left).attr('height', box.bottom - box.top)
  .attr('fill', 'none').attr('stroke', '#000').attr('stroke-width', 2);

// tick labels
const num = v => (v < 0 ? ['\u2212', String(-v)] : ['', String(v)]);
const xl = svg.append('g').attr('font-family', serif).attr('font-size', 52).attr('fill', '#000');
xMajor.forEach(v => {
  const [s, n] = num(v);
  const t = xl.append('text').attr('x', x(v)).attr('y', 725).attr('text-anchor', 'middle');
  if (s) t.append('tspan').text(s);
  t.append('tspan').attr('dx', s ? 8 : 0).text(n);
});
const yl = svg.append('g').attr('font-family', serif).attr('font-size', 52).attr('fill', '#000');
yMajor.forEach(v => {
  const [s, n] = num(v);
  const cy = Math.max(box.top + 18, Math.min(box.bottom - 18, y(v)));
  const t = yl.append('text').attr('x', 180).attr('y', cy + 17.5).attr('text-anchor', 'end');
  if (s) t.append('tspan').text(s);
  t.append('tspan').attr('dx', s ? 7 : 0).text(n);
});

// axis titles
svg.append('text')
  .attr('x', 548).attr('y', 787)
  .attr('font-family', serif).attr('font-size', 51)
  .attr('textLength', 290).attr('lengthAdjust', 'spacing')
  .text(xTitle);
svg.append('text')
  .attr('transform', 'translate(63,338) rotate(-90)')
  .attr('text-anchor', 'middle')
  .attr('font-family', serif).attr('font-size', 51)
  .attr('textLength', 535).attr('lengthAdjust', 'spacing')
  .text(yTitle);

// credit
svg.append('text')
  .attr('x', 223).attr('y', 70)
  .attr('font-family', '"Liberation Sans", Arial, sans-serif')
  .attr('font-size', 37).attr('font-weight', 'bold').attr('font-style', 'italic')
  .attr('fill', red)
  .text(credit);

// M ∝ L^2.5
const fc = '#8c2a12';
const f = svg.append('g').attr('fill', fc);
f.append('text').attr('x', 372).attr('y', 307)
  .attr('font-family', serif).attr('font-style', 'italic').attr('font-size', 70).text('M');
// white outline thins the heavy glyph down to a hairline like the original
f.append('text').attr('x', 464).attr('y', 314)
  .attr('font-family', '"DejaVu Serif", serif')
  .attr('font-size', 80)
  .attr('stroke', '#fff').attr('stroke-width', 2.6)
  .text('\u221D');
f.append('text').attr('x', 532).attr('y', 307)
  .attr('font-family', serif).attr('font-style', 'italic').attr('font-size', 70).text('L');
f.append('text').attr('x', 583).attr('y', 277)
  .attr('font-family', serif).attr('font-size', 50).text('2.5');
</script>
</body>
</html>
